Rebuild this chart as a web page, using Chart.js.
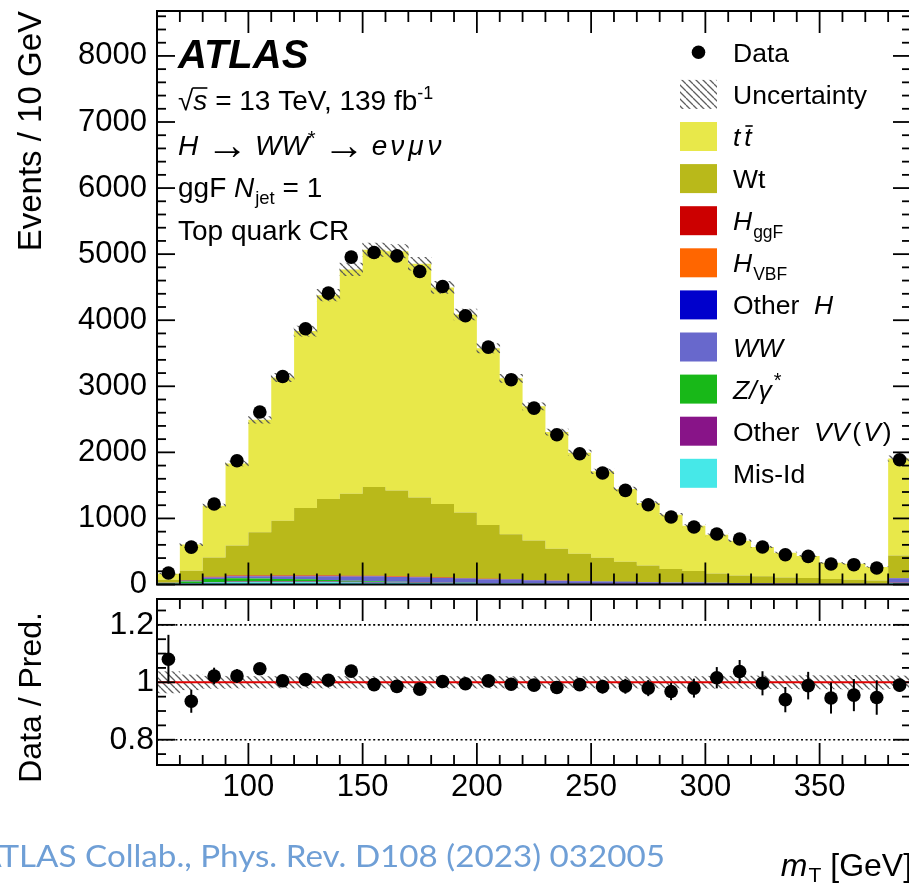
<!DOCTYPE html>
<html><head><meta charset="utf-8">
<script src="https://cdn.jsdelivr.net/npm/chart.js@4.4.1/dist/chart.umd.min.js"></script>
<style>
html,body{margin:0;padding:0;background:#fff;overflow:hidden;width:909px;height:888px;}
#wrap{position:relative;width:909px;height:888px;overflow:hidden;}
#c1{position:absolute;left:0;top:0;}
#c2{position:absolute;left:0;top:590px;}
</style></head><body><div id="wrap"><canvas id="c1" width="920" height="600"></canvas><canvas id="c2" width="920" height="298"></canvas></div>
<script>
// ---------------- data ----------------
const BIN_W = 10;
const binLow = [60,70,80,90,100,110,120,130,140,150,160,170,180,190,200,210,220,230,240,250,260,270,280,290,300,310,320,330,340,350,360,370,380];
const xTicks = [100,150,200,250,300,350];
const yTicksMain = [0,1000,2000,3000,4000,5000,6000,7000,8000];
const yTicksRatio = [0.8,1.0,1.2];
const dataCounts = [175,565,1218,1873,2610,3148,3870,4410,4955,5024,4974,4737,4510,4067,3593,3098,2670,2266,1979,1687,1424,1207,1021,870,764,688,567,451,425,310,300,250,1888];
const ttbar   = [89,395,782,1241,1704,2167,2678,3086,3395,3590,3621,3535,3279,2996,2675,2360,2030,1766,1529,1308,1099,946,821,685,586,525,446,373,332,245,241,202,1467];
const wt      = [45,148,292,454,651,827,1020,1157,1242,1342,1300,1201,1113,996,814,682,598,482,413,358,303,249,202,173,139,114,102,89,82,70,61,51,343];
const hggf    = [2,5,10,12,12,12,11,10,9,8,7,6,5,4,4,3,3,2,2,2,1,1,1,1,1,1,1,1,0,0,0,0,2];
const hvbf    = [0,1,2,2,2,2,2,2,2,2,2,2,1,1,1,1,1,1,1,1,1,1,0,0,0,0,0,0,0,0,0,0,1];
const otherH  = [1,2,3,4,4,4,4,4,3,3,3,3,2,2,2,2,2,1,1,1,1,1,1,1,1,0,0,0,0,0,0,0,1];
const wwBkg   = [5,10,20,25,30,35,40,50,60,70,70,70,65,60,55,50,45,40,35,30,28,25,22,20,18,16,14,12,11,10,9,8,60];
const zgam    = [8,20,45,50,45,40,35,25,18,12,8,6,5,4,3,3,2,2,2,2,1,1,1,1,1,1,1,1,1,0,0,0,3];
const otherVV = [2,4,8,10,10,10,10,10,10,10,9,8,7,6,5,5,4,4,3,3,3,2,2,2,2,2,2,1,1,1,1,1,10];
const misId   = [10,20,30,35,35,35,35,35,30,28,25,22,20,18,16,14,12,10,9,8,7,6,5,5,4,4,3,3,3,2,2,2,20];
const ratioErr = [0.085,0.040,0.029,0.024,0.021,0.018,0.016,0.015,0.015,0.014,0.014,0.014,0.015,0.016,0.017,0.018,0.019,0.021,0.022,0.024,0.026,0.028,0.030,0.033,0.037,0.040,0.042,0.044,0.048,0.054,0.056,0.060,0.023];
const uncRel  = [0.037,0.026,0.021,0.02,0.02,0.02,0.02,0.02,0.02,0.02,0.02,0.02,0.02,0.02,0.02,0.02,0.02,0.02,0.02,0.02,0.02,0.02,0.02,0.02,0.021,0.021,0.022,0.022,0.023,0.023,0.024,0.024,0.022];

// stack order: bottom first
const components = [
  {label:'Mis-Id',      vals: misId,   color:'#46e8e8'},
  {label:'Other VV(V)', vals: otherVV, color:'#881488'},
  {label:'Z/γ*',        vals: zgam,    color:'#18b818'},
  {label:'WW',          vals: wwBkg,   color:'#6868cc'},
  {label:'Other H',     vals: otherH,  color:'#0000cc'},
  {label:'H VBF',       vals: hvbf,    color:'#ff6600'},
  {label:'H ggF',       vals: hggf,    color:'#cc0000'},
  {label:'Wt',          vals: wt,      color:'#b9b91a'},
  {label:'tt',          vals: ttbar,   color:'#e8e84a'}
];

const FONT = '"Liberation Sans", Arial, Helvetica, sans-serif';
const X_MIN = 60, X_MAX = 390, Y_MAX = 8680, R_MIN = 0.712, R_MAX = 1.29;
const centers = binLow.map(v => v + BIN_W / 2);
const pred = binLow.map((_, i) => components.reduce((s, c) => s + c.vals[i], 0));
const ratio = dataCounts.map((d, i) => d / pred[i]);

function stepData(vals) {
  const pts = binLow.map((x, i) => ({x, y: vals[i]}));
  pts.push({x: binLow[binLow.length - 1] + BIN_W, y: vals[vals.length - 1]});
  return pts;
}
function makeHatch(ctx) {
  const s = 7;
  const c = document.createElement('canvas'); c.width = s; c.height = s;
  const g = c.getContext('2d');
  g.strokeStyle = 'rgba(85,85,85,0.95)'; g.lineWidth = 1.3;
  g.beginPath();
  for (const k of [-s, 0, s]) { g.moveTo(k, 0); g.lineTo(k + s, s); }
  g.stroke();
  return ctx.createPattern(c, 'repeat');
}
function drawRich(ctx, x, y, parts, size) {
  let cx = x;
  for (const p of parts) {
    const sz = size * (p.s || 1);
    ctx.font = (p.i ? 'italic ' : '') + (p.b ? 'bold ' : '') + sz + 'px ' + FONT;
    ctx.fillText(p.t, cx, y + (p.dy || 0));
    const w = ctx.measureText(p.t).width;
    if (p.over) {
      ctx.save(); ctx.lineWidth = 1.6; ctx.strokeStyle = '#000';
      ctx.beginPath(); ctx.moveTo(cx + (p.ox || 0), y - p.over); ctx.lineTo(cx + w + (p.ox || 0) + (p.ex || 0), y - p.over); ctx.stroke(); ctx.restore();
    }
    cx += w + (p.g || 0);
  }
  return cx;
}
function seg(ctx, x1, y1, x2, y2) { ctx.beginPath(); ctx.moveTo(x1, y1); ctx.lineTo(x2, y2); ctx.stroke(); }

const ctx1 = document.getElementById('c1').getContext('2d');
const ctx2 = document.getElementById('c2').getContext('2d');
const hatch1 = makeHatch(ctx1);
const hatch2 = makeHatch(ctx2);

// ---------------- main panel ----------------
const legendRows = [
  {kind:'dot',   parts:[{t:'Data'}]},
  {kind:'hatch', parts:[{t:'Uncertainty'}]},
  {kind:'box', color:components[8].color, parts:[{t:'t', i:true, g:4}, {t:'t', i:true, over:20, ox:1}]},
  {kind:'box', color:components[7].color, parts:[{t:'Wt'}]},
  {kind:'box', color:components[6].color, parts:[{t:'H', i:true, g:1}, {t:'ggF', s:0.66, dy:8}]},
  {kind:'box', color:components[5].color, parts:[{t:'H', i:true, g:1}, {t:'VBF', s:0.66, dy:8}]},
  {kind:'box', color:components[4].color, parts:[{t:'Other  '}, {t:'H', i:true}]},
  {kind:'box', color:components[3].color, parts:[{t:'WW', i:true}]},
  {kind:'box', color:components[2].color, parts:[{t:'Z/', i:true, g:2}, {t:'γ', i:true, g:2}, {t:'*', s:0.75, dy:-12}]},
  {kind:'box', color:components[1].color, parts:[{t:'Other  '}, {t:'VV', i:true, g:3}, {t:'(', g:2}, {t:'V', i:true, g:2}, {t:')'}]},
  {kind:'box', color:components[0].color, parts:[{t:'Mis-Id'}]}
];

const mainDeco = {
  id: 'mainDeco',
  afterDatasetsDraw(chart) {
    const {ctx, scales} = chart;
    const x = scales.x, y = scales.y;
    ctx.save();
    ctx.strokeStyle = '#000'; ctx.lineWidth = 2;
    centers.forEach((c, i) => {
      const e = ratioErr[i] * pred[i];
      const px = x.getPixelForValue(c);
      seg(ctx, px, y.getPixelForValue(dataCounts[i] - e), px, y.getPixelForValue(dataCounts[i] + e));
    });
    ctx.restore();
  },
  afterDraw(chart) {
    const {ctx, chartArea: a, scales} = chart;
    const x = scales.x, y = scales.y;
    ctx.save();
    ctx.strokeStyle = '#000'; ctx.fillStyle = '#000';
    ctx.lineWidth = 2;
    ctx.strokeRect(a.left, a.top, a.right - a.left, a.bottom - a.top);
    ctx.lineWidth = 1.8;
    for (let v = X_MIN; v <= X_MAX; v += 10) {
      const px = x.getPixelForValue(v), L = (v % 50 === 0) ? 22 : 11;
      seg(ctx, px, a.bottom, px, a.bottom - L);
      seg(ctx, px, a.top, px, a.top + L);
    }
    for (let v = 0; v <= Y_MAX; v += 200) {
      const py = y.getPixelForValue(v), L = (v % 1000 === 0) ? 18 : 9;
      seg(ctx, a.left, py, a.left + L, py);
      seg(ctx, a.right, py, a.right - L, py);
    }
    // y title
    ctx.save();
    ctx.translate(41, 11); ctx.rotate(-Math.PI / 2);
    ctx.textAlign = 'right'; ctx.textBaseline = 'alphabetic';
    ctx.font = '33px ' + FONT;
    ctx.fillText('Events / 10 GeV', 0, 0);
    ctx.restore();
    // labels
    ctx.textAlign = 'left'; ctx.textBaseline = 'alphabetic';
    drawRich(ctx, 178, 68, [{t:'ATLAS', i:true, b:true}], 40);
    drawRich(ctx, 178, 110, [{t:'√', g:0}, {t:'s', i:true, over:22, ox:-1, ex:1}, {t:' = 13 TeV, 139 fb'}, {t:'-1', s:0.64, dy:-11}], 28);
    drawRich(ctx, 178, 155, [{t:'H ', i:true}, {t:'→', s:1.5, dy:4, g:7}, {t:'WW', i:true}, {t:'*', s:0.72, dy:-10, g:7}, {t:'→', s:1.5, dy:4, g:7}, {t:'e', i:true, g:3}, {t:'ν', i:true, g:4}, {t:'μ', i:true, g:4}, {t:'ν', i:true}], 28);
    drawRich(ctx, 178, 197, [{t:'ggF '}, {t:'N', i:true, g:1}, {t:'jet', s:0.66, dy:7}, {t:' = 1'}], 28);
    drawRich(ctx, 178, 240, [{t:'Top quark CR'}], 28);
    // legend
    const legY0 = 52.3, legDY = 42.1;
    legendRows.forEach((r, k) => {
      const cy = legY0 + k * legDY;
      if (r.kind === 'dot') {
        ctx.beginPath(); ctx.arc(698.5, cy, 6.8, 0, Math.PI * 2); ctx.fill();
      } else if (r.kind === 'hatch') {
        ctx.save(); ctx.fillStyle = hatch1; ctx.fillRect(680, cy - 14.5, 37, 29); ctx.restore();
      } else {
        ctx.save(); ctx.fillStyle = r.color; ctx.fillRect(680, cy - 14.5, 37, 29); ctx.restore();
      }
      drawRich(ctx, 733, cy + 9.5, r.parts, 26.5);
    });
    ctx.restore();
  }
};

const stackDS = components.map((c, k) => ({
  type: 'line', label: c.label, data: stepData(c.vals), yAxisID: 'y', xAxisID: 'x',
  stepped: 'before', fill: k === 0 ? 'origin' : '-1', backgroundColor: c.color,
  borderColor: 'rgba(0,0,0,0)', borderWidth: 0, pointRadius: 0, tension: 0
}));
const bandDS = {
  type: 'bar', label: 'Uncertainty',
  data: centers.map((c, i) => ({x: c, y: [pred[i] * (1 - uncRel[i]), pred[i] * (1 + uncRel[i])]})),
  yAxisID: 'yu', xAxisID: 'x', backgroundColor: hatch1, borderWidth: 0,
  barPercentage: 1, categoryPercentage: 1, grouped: false
};
const dataDS = {
  type: 'line', label: 'Data', data: centers.map((c, i) => ({x: c, y: dataCounts[i]})),
  yAxisID: 'yd', xAxisID: 'x', showLine: false, pointRadius: 6.8, pointBackgroundColor: '#000',
  pointBorderWidth: 0, pointBorderColor: '#000', borderColor: '#000'
};

new Chart(ctx1, {
  type: 'line',
  data: { datasets: [dataDS, bandDS, ...stackDS] },
  options: {
    responsive: false, animation: false, devicePixelRatio: 1, events: [],
    layout: { padding: { left: 0, top: 11, right: 9, bottom: 15.5 } },
    plugins: { legend: {display: false}, tooltip: {enabled: false} },
    scales: {
      x: { type: 'linear', min: X_MIN, max: X_MAX, display: false, offset: false,
           afterBuildTicks: s => { s.ticks = xTicks.map(v => ({value: v})); } },
      y: { type: 'linear', stacked: true, min: 0, max: Y_MAX, position: 'left', offset: false,
           grid: {display: false, drawTicks: false}, border: {display: false},
           ticks: { font: {family: FONT, size: 31}, color: '#000', padding: 10, callback: v => String(v) },
           afterBuildTicks: s => { s.ticks = yTicksMain.map(v => ({value: v})); },
           afterFit: s => { s.width = 157; s.paddingTop = 0; s.paddingBottom = 0; } },
      yu: { type: 'linear', min: 0, max: Y_MAX, display: false, stacked: false, offset: false },
      yd: { type: 'linear', min: 0, max: Y_MAX, display: false, stacked: false, offset: false }
    }
  },
  plugins: [mainDeco]
});

// ---------------- ratio panel ----------------
const ratioDeco = {
  id: 'ratioDeco',
  afterDatasetDraw(chart, args) {
    if (args.index !== 1) return;
    const {ctx, chartArea: a, scales} = chart;
    const y = scales.y;
    ctx.save();
    ctx.strokeStyle = '#000'; ctx.lineWidth = 1.6; ctx.setLineDash([2, 2.6]);
    for (const v of [yTicksRatio[0], yTicksRatio[2]]) { const py = y.getPixelForValue(v); seg(ctx, a.left, py, a.right, py); }
    ctx.setLineDash([]);
    ctx.strokeStyle = '#e00000'; ctx.lineWidth = 2;
    const p1 = y.getPixelForValue(yTicksRatio[1]);
    seg(ctx, a.left, p1, a.right, p1);
    ctx.restore();
  },
  afterDatasetsDraw(chart) {
    const {ctx, scales} = chart;
    const x = scales.x, y = scales.y;
    ctx.save(); ctx.strokeStyle = '#000'; ctx.lineWidth = 2;
    centers.forEach((c, i) => {
      const px = x.getPixelForValue(c);
      seg(ctx, px, y.getPixelForValue(ratio[i] - ratioErr[i]), px, y.getPixelForValue(ratio[i] + ratioErr[i]));
    });
    ctx.restore();
  },
  afterDraw(chart) {
    const {ctx, chartArea: a, scales} = chart;
    const x = scales.x, y = scales.y;
    ctx.save();
    ctx.strokeStyle = '#000'; ctx.fillStyle = '#000'; ctx.lineWidth = 2;
    ctx.strokeRect(a.left, a.top, a.right - a.left, a.bottom - a.top);
    ctx.lineWidth = 1.8;
    for (let v = X_MIN; v <= X_MAX; v += 10) {
      const px = x.getPixelForValue(v), L = (v % 50 === 0) ? 22 : 10;
      seg(ctx, px, a.bottom, px, a.bottom - L);
      seg(ctx, px, a.top, px, a.top + L);
    }
    for (let k = 15; k <= 25; k++) {
      const v = k * 0.05, py = y.getPixelForValue(v), L = (k % 4 === 0) ? 18 : 9;
      seg(ctx, a.left, py, a.left + L, py);
      seg(ctx, a.right, py, a.right - L, py);
    }
    // y title
    ctx.save();
    ctx.translate(41, 612 - 590); ctx.rotate(-Math.PI / 2);
    ctx.textAlign = 'right'; ctx.font = '32px ' + FONT;
    ctx.fillText('Data / Pred.', 0, 0);
    ctx.restore();
    // x title
    ctx.textAlign = 'left';
    ctx.font = 'italic 32px ' + FONT;
    const w1 = ctx.measureText('m').width;
    ctx.font = '21px ' + FONT; const w2 = ctx.measureText('T').width;
    ctx.font = '32px ' + FONT; const w3 = ctx.measureText(' [GeV]').width;
    drawRich(ctx, 912 - (w1 + 1 + w2 + w3), 876 - 590, [{t:'m', i:true, g:1}, {t:'T', s:0.66, dy:6}, {t:' [GeV]'}], 32);
    // citation
    ctx.save();
    ctx.fillStyle = '#6f9fd6';
    ctx.font = '30px Lato, "Noto Sans", sans-serif';
    const full = 'ATLAS Collab., Phys. Rev. D108 (2023) 032005';
    const wA = ctx.measureText('A').width, wF = ctx.measureText(full).width;
    const sx = 665 / (wF - wA * 0.92);
    ctx.translate(0, 867 - 590); ctx.scale(sx, 1);
    ctx.fillText(full, -wA * 0.92, 0);
    ctx.restore();
    ctx.restore();
  }
};

new Chart(ctx2, {
  type: 'line',
  data: { datasets: [
    { type: 'line', label: 'Data / Pred.', data: centers.map((c, i) => ({x: c, y: ratio[i]})),
      showLine: false, pointRadius: 6.8, pointBackgroundColor: '#000', pointBorderWidth: 0, borderColor: '#000' },
    { type: 'bar', label: 'Uncertainty', data: centers.map((c, i) => ({x: c, y: [1 - uncRel[i], 1 + uncRel[i]]})),
      backgroundColor: hatch2, borderWidth: 0, barPercentage: 1, categoryPercentage: 1, grouped: false }
  ]},
  options: {
    responsive: false, animation: false, devicePixelRatio: 1, events: [],
    layout: { padding: { left: 0, top: 9, right: 9, bottom: 78 } },
    plugins: { legend: {display: false}, tooltip: {enabled: false} },
    scales: {
      x: { type: 'linear', min: X_MIN, max: X_MAX, position: 'bottom', offset: false,
           grid: {display: false, drawTicks: false, offset: false}, border: {display: false},
           ticks: { font: {family: FONT, size: 31}, color: '#000', padding: 4, maxRotation: 0, callback: v => String(v) },
           afterBuildTicks: s => { s.ticks = xTicks.map(v => ({value: v})); },
           afterFit: s => { s.height = 45; s.paddingLeft = 0; s.paddingRight = 0; } },
      y: { type: 'linear', min: R_MIN, max: R_MAX, position: 'left', offset: false,
           grid: {display: false, drawTicks: false}, border: {display: false},
           ticks: { font: {family: FONT, size: 32}, color: '#000', padding: 3, callback: v => String(Math.round(v * 10) / 10) },
           afterBuildTicks: s => { s.ticks = yTicksRatio.map(v => ({value: v})); },
           afterFit: s => { s.width = 157; s.paddingTop = 0; s.paddingBottom = 0; } }
    }
  },
  plugins: [ratioDeco]
});
</script></body></html>
